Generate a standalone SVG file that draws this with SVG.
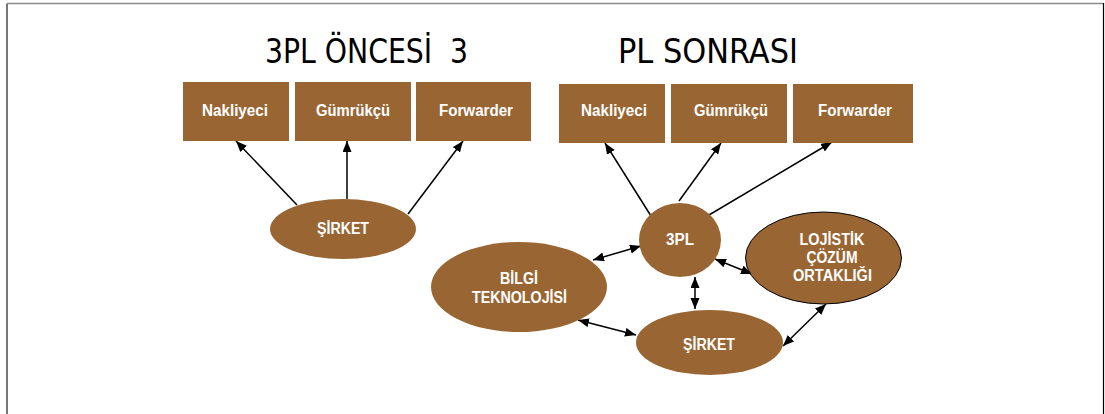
<svg xmlns="http://www.w3.org/2000/svg" width="1105" height="414" viewBox="0 0 1105 414">
  <style>
    .box { fill: #996633; }
    .oval { fill: #996633; }
    .outlined { stroke: #000; stroke-width: 1; }
    .lbl { font-family: "Liberation Sans", Arial, sans-serif; font-weight: bold; fill: #fff; text-anchor: middle; }
    .boxlbl { font-size: 16px; }
    .ovallbl { font-size: 16px; }
    .title { font-family: "DejaVu Sans Condensed", "DejaVu Sans", sans-serif; font-size: 34px; fill: #000; white-space: pre; }
    .conn line { stroke: #000; stroke-width: 1.5; }
  </style>
  <defs>
    <marker id="head" markerUnits="userSpaceOnUse" markerWidth="12" markerHeight="10" refX="11" refY="4.5" orient="auto-start-reverse">
      <path d="M0,0 L11,4.5 L0,9 z" fill="#000"/>
    </marker>
  </defs>

  <rect width="1105" height="414" fill="#fff"/>
  <!-- frame -->
  <path d="M7,414 L7,3.5" stroke="#555" stroke-width="1.6" fill="none"/>
  <path d="M7,3.5 L1103,3.5" stroke="#8a8a8a" stroke-width="1.6" fill="none"/>
  <path d="M1103.5,3 L1103.5,414" stroke="#000" stroke-width="1.2" fill="none"/>

  <!-- titles -->
  <text class="title" x="265" y="63" textLength="203" lengthAdjust="spacingAndGlyphs">3PL ÖNCESİ  3</text>
  <text class="title" x="618" y="63" textLength="180" lengthAdjust="spacingAndGlyphs">PL SONRASI</text>

  <!-- connectors -->
  <g id="connectors" class="conn">
    <line x1="297" y1="205" x2="236" y2="141" marker-end="url(#head)"/>
    <line x1="347" y1="199" x2="347" y2="141" marker-end="url(#head)"/>
    <line x1="408" y1="214" x2="463" y2="141" marker-end="url(#head)"/>

    <line x1="651" y1="216" x2="605" y2="143" marker-end="url(#head)"/>
    <line x1="679" y1="201" x2="721" y2="143" marker-end="url(#head)"/>
    <line x1="709" y1="215" x2="832" y2="142" marker-end="url(#head)"/>

    <line x1="593" y1="260" x2="641" y2="246" marker-start="url(#head)" marker-end="url(#head)"/>
    <line x1="578" y1="320" x2="636" y2="335" marker-start="url(#head)" marker-end="url(#head)"/>
    <line x1="695" y1="277" x2="695" y2="309" marker-start="url(#head)" marker-end="url(#head)"/>
    <line x1="715" y1="259" x2="752" y2="274" marker-start="url(#head)" marker-end="url(#head)"/>
    <line x1="783" y1="346" x2="826" y2="304" marker-start="url(#head)" marker-end="url(#head)"/>
  </g>

  <!-- before: providers -->
  <g id="before-nakliyeci">
    <rect class="box" x="183" y="82" width="106" height="59"/>
    <text class="lbl boxlbl" x="235" y="116" textLength="66" lengthAdjust="spacingAndGlyphs">Nakliyeci</text>
  </g>
  <g id="before-gumrukcu">
    <rect class="box" x="295" y="82" width="116" height="59"/>
    <text class="lbl boxlbl" x="353" y="116" textLength="74" lengthAdjust="spacingAndGlyphs">Gümrükçü</text>
  </g>
  <g id="before-forwarder">
    <rect class="box" x="416" y="82" width="115" height="59"/>
    <text class="lbl boxlbl" x="476" y="116" textLength="74" lengthAdjust="spacingAndGlyphs">Forwarder</text>
  </g>
  <g id="before-sirket">
    <ellipse class="oval" cx="343" cy="229" rx="73" ry="30"/>
    <text class="lbl ovallbl" x="343" y="234" textLength="52" lengthAdjust="spacingAndGlyphs">ŞİRKET</text>
  </g>

  <!-- after: providers -->
  <g id="after-nakliyeci">
    <rect class="box" x="559" y="84" width="106" height="59"/>
    <text class="lbl boxlbl" x="614" y="116" textLength="66" lengthAdjust="spacingAndGlyphs">Nakliyeci</text>
  </g>
  <g id="after-gumrukcu">
    <rect class="box" x="671" y="84" width="116" height="59"/>
    <text class="lbl boxlbl" x="731" y="116" textLength="74" lengthAdjust="spacingAndGlyphs">Gümrükçü</text>
  </g>
  <g id="after-forwarder">
    <rect class="box" x="793" y="84" width="120" height="59"/>
    <text class="lbl boxlbl" x="855" y="116" textLength="74" lengthAdjust="spacingAndGlyphs">Forwarder</text>
  </g>

  <g id="after-3pl">
    <ellipse class="oval" cx="680" cy="240" rx="41" ry="37"/>
    <text class="lbl ovallbl" x="680" y="245" textLength="28" lengthAdjust="spacingAndGlyphs">3PL</text>
  </g>
  <g id="after-bilgi">
    <ellipse class="oval" cx="519" cy="287" rx="88" ry="45"/>
    <text class="lbl ovallbl" x="519" y="284" textLength="38" lengthAdjust="spacingAndGlyphs">BİLGİ</text>
    <text class="lbl ovallbl" x="519.5" y="303" textLength="95" lengthAdjust="spacingAndGlyphs">TEKNOLOJİSİ</text>
  </g>
  <g id="after-lojistik">
    <ellipse class="oval outlined" cx="823.5" cy="258" rx="78" ry="46"/>
    <text class="lbl ovallbl" x="832" y="245" textLength="65" lengthAdjust="spacingAndGlyphs">LOJİSTİK</text>
    <text class="lbl ovallbl" x="832" y="263" textLength="51" lengthAdjust="spacingAndGlyphs">ÇÖZÜM</text>
    <text class="lbl ovallbl" x="832.5" y="281" textLength="79" lengthAdjust="spacingAndGlyphs">ORTAKLIĞI</text>
  </g>
  <g id="after-sirket">
    <ellipse class="oval" cx="709.5" cy="342.5" rx="73.5" ry="32.5"/>
    <text class="lbl ovallbl" x="709" y="350" textLength="52" lengthAdjust="spacingAndGlyphs">ŞİRKET</text>
  </g>
</svg>
